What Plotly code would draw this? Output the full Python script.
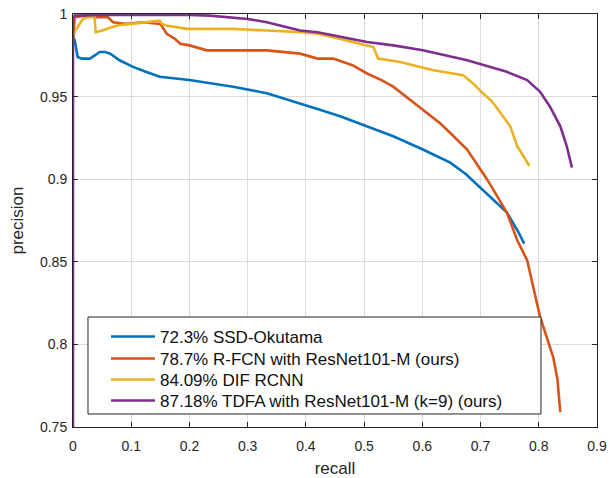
import plotly.graph_objects as go

# SSD-Okutama
ssd_recall = [0.0, 0.003, 0.008, 0.015, 0.029, 0.038, 0.046, 0.055, 0.064, 0.08, 0.103, 0.125, 0.149, 0.2, 0.24, 0.275, 0.333,
              0.39, 0.424, 0.46, 0.505, 0.55, 0.601, 0.648, 0.675, 0.699, 0.72, 0.745, 0.765, 0.775]
ssd_prec = [0.986, 0.984, 0.974, 0.973, 0.973, 0.975, 0.977, 0.977, 0.976, 0.972, 0.968, 0.965, 0.962, 0.960, 0.958, 0.956, 0.952,
            0.946, 0.942, 0.938, 0.932, 0.926, 0.918, 0.910, 0.903, 0.895, 0.888, 0.880, 0.868, 0.861]

# R-FCN with ResNet101-M
rfcn_recall = [0.0, 0.003, 0.02, 0.04, 0.06, 0.069, 0.09, 0.12, 0.15, 0.161, 0.175, 0.184, 0.2, 0.23, 0.275, 0.333, 0.39, 0.42,
               0.447, 0.48, 0.505, 0.53, 0.55, 0.579, 0.608, 0.63, 0.648, 0.677, 0.711, 0.745, 0.763, 0.78, 0.802, 0.815,
               0.825, 0.832, 0.837]
rfcn_prec = [0.985, 0.998, 0.999, 0.998, 0.998, 0.995, 0.994, 0.995, 0.994, 0.988, 0.985, 0.982, 0.981, 0.978, 0.978, 0.978,
             0.976, 0.973, 0.973, 0.969, 0.964, 0.960, 0.956, 0.948, 0.940, 0.934, 0.928, 0.918, 0.900, 0.880, 0.863, 0.851,
             0.817, 0.803, 0.792, 0.779, 0.759]

# DIF RCNN
dif_recall = [0.0, 0.004, 0.017, 0.025, 0.037, 0.039, 0.05, 0.075, 0.1, 0.149, 0.153, 0.16, 0.196, 0.275, 0.333, 0.39, 0.42,
              0.447, 0.493, 0.516, 0.524, 0.562, 0.619, 0.67, 0.687, 0.704, 0.72, 0.734, 0.751, 0.763, 0.775, 0.784]
dif_prec = [0.987, 0.990, 0.997, 0.998, 0.998, 0.989, 0.990, 0.993, 0.994, 0.996, 0.994, 0.993, 0.991, 0.991, 0.990, 0.989, 0.988,
            0.986, 0.982, 0.980, 0.973, 0.971, 0.966, 0.963, 0.958, 0.952, 0.947, 0.940, 0.932, 0.920, 0.913, 0.908]

# TDFA with ResNet101-M (k=9)
tdfa_recall = [0.0, 0.0, 0.003, 0.05, 0.1, 0.2, 0.235, 0.3, 0.333, 0.39, 0.42, 0.447, 0.505, 0.55, 0.601, 0.677, 0.745, 0.78,
               0.802, 0.819, 0.837, 0.848, 0.857]
tdfa_prec = [0.75, 0.998, 0.999, 0.9995, 0.9995, 0.9995, 0.999, 0.997, 0.995, 0.990, 0.989, 0.987, 0.983, 0.981, 0.978, 0.972,
             0.965, 0.960, 0.953, 0.944, 0.932, 0.920, 0.907]

names = ["72.3% SSD-Okutama", "78.7% R-FCN with ResNet101-M (ours)", "84.09% DIF RCNN",
         "87.18% TDFA with ResNet101-M (k=9) (ours)"]
colors = ["#0072BD", "#D95319", "#EDB120", "#7E2F8E"]
series = [(ssd_recall, ssd_prec), (rfcn_recall, rfcn_prec), (dif_recall, dif_prec), (tdfa_recall, tdfa_prec)]

x_ticks = [0, 0.1, 0.2, 0.3, 0.4, 0.5, 0.6, 0.7, 0.8, 0.9]
x_tick_labels = ["0", "0.1", "0.2", "0.3", "0.4", "0.5", "0.6", "0.7", "0.8", "0.9"]
y_ticks = [0.75, 0.8, 0.85, 0.9, 0.95, 1.0]
y_tick_labels = ["0.75", "0.8", "0.85", "0.9", "0.95", "1"]

legend_ids = ["legend", "legend2", "legend3", "legend4"]
legend_tops = [0.2615, 0.2082, 0.1574, 0.1065]

fig = go.Figure()
for (xs, ys), n, c, lid in zip(series, names, colors, legend_ids):
    fig.add_trace(go.Scatter(x=xs, y=ys, mode="lines", name=n, line=dict(color=c, width=2.6), legend=lid))

axis_common = dict(showline=True, linecolor="#262626", linewidth=1, mirror="ticks", ticks="inside", ticklen=5,
                   tickcolor="#262626", showgrid=True, gridcolor="#dcdcdc", gridwidth=1, zeroline=False,
                   automargin=False,
                   tickfont=dict(family="Liberation Sans, Arial", size=14, color="#262626"))

# legend frame (drawn as a shape so its padding matches the reference)
fig.add_shape(type="rect", xref="paper", yref="paper", x0=0.0286, x1=0.8931, y0=0.0315, y1=0.2663,
              line=dict(color="#262626", width=1), fillcolor="white", layer="above")

legend_style = dict(x=0.063, xanchor="left", yanchor="top", borderwidth=0, bgcolor="rgba(0,0,0,0)",
                    font=dict(size=17, color="#111111"), itemwidth=44)

layout_legends = {lid: dict(y=yt, **legend_style) for lid, yt in zip(legend_ids, legend_tops)}

fig.update_layout(
    width=615, height=478,
    margin=dict(l=73, r=18, t=14, b=51, autoexpand=False),
    paper_bgcolor="white", plot_bgcolor="white",
    font=dict(family="Liberation Sans, Arial", color="#262626"),
    xaxis=dict(range=[0, 0.9], tickvals=x_ticks, ticktext=x_tick_labels, ticklabelstandoff=6,
               title=dict(text="recall", font=dict(size=17), standoff=10), **axis_common),
    yaxis=dict(range=[0.75, 1.0], tickvals=y_ticks, ticktext=y_tick_labels, ticklabelstandoff=2,
               title=dict(text="precision", font=dict(size=17), standoff=12), **axis_common),
    showlegend=True,
    **layout_legends,
)

fig.write_html("out.html")
